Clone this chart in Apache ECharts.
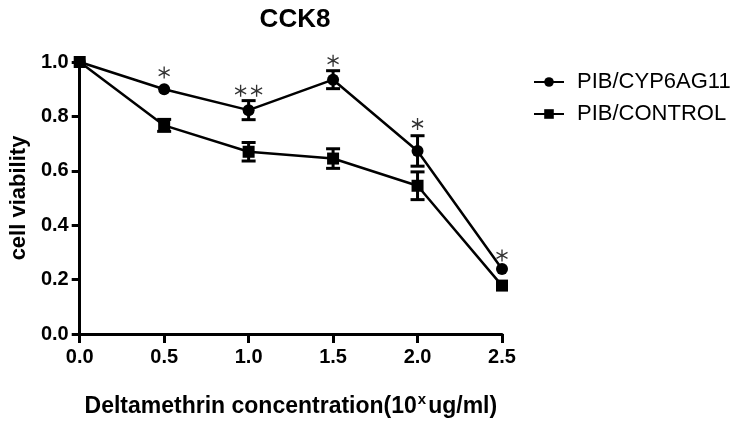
<!DOCTYPE html>
<html>
<head>
<meta charset="utf-8">
<script src="https://cdn.jsdelivr.net/npm/echarts@6/dist/echarts.min.js"></script>
<style>html,body{margin:0;padding:0;background:#fff;}#c{width:747px;height:423px;}</style>
</head>
<body>
<div id="c"></div>
<script>
var concentrations = [0.0, 0.5, 1.0, 1.5, 2.0, 2.5];
var cypMean = [1.0, 0.90, 0.823, 0.935, 0.673, 0.239];
var cypErr  = [0.0, 0.0, 0.035, 0.033, 0.056, 0.0];
var ctrlMean = [1.0, 0.767, 0.670, 0.645, 0.545, 0.178];
var ctrlErr  = [0.0, 0.022, 0.034, 0.036, 0.051, 0.0];
var sigX = [0.5, 1.0, 1.5, 2.0, 2.5];
var sigY = [0.961, 0.894, 1.005, 0.772, 0.289];
var sigCount = [1, 2, 1, 1, 1];
var yTicks = ['0.0', '0.2', '0.4', '0.6', '0.8', '1.0'];
var xTicks = ['0.0', '0.5', '1.0', '1.5', '2.0', '2.5'];
var seriesNames = ['PIB/CYP6AG11', 'PIB/CONTROL'];

var FONT = '"Liberation Sans", Arial, sans-serif';

function pairs(xs, ys) { return xs.map(function (x, i) { return [x, ys[i]]; }); }
function errData(xs, m, e) {
  var out = [];
  xs.forEach(function (x, i) { if (e[i] > 0) out.push([x, m[i] - e[i], m[i] + e[i]]); });
  return out;
}
var sigData = [];
sigX.forEach(function (x, i) {
  if (sigCount[i] === 2) {
    sigData.push({ value: [x, sigY[i]], symbolOffset: [-8, 0] });
    sigData.push({ value: [x, sigY[i]], symbolOffset: [8, 0] });
  } else {
    sigData.push({ value: [x, sigY[i]] });
  }
});

function renderErr(params, api) {
  var x = api.value(0);
  var lo = api.coord([x, api.value(1)]);
  var hi = api.coord([x, api.value(2)]);
  var hw = 7;
  var st = { stroke: '#000', lineWidth: 3 };
  return {
    type: 'group',
    children: [
      { type: 'line', shape: { x1: lo[0], y1: lo[1], x2: hi[0], y2: hi[1] }, style: st },
      { type: 'line', shape: { x1: lo[0] - hw, y1: lo[1], x2: lo[0] + hw, y2: lo[1] }, style: st },
      { type: 'line', shape: { x1: hi[0] - hw, y1: hi[1], x2: hi[0] + hw, y2: hi[1] }, style: st }
    ]
  };
}

var chart = echarts.init(document.getElementById('c'), null, { renderer: 'canvas' });
chart.setOption({
  backgroundColor: '#fff',
  animation: false,
  textStyle: { fontFamily: FONT, color: '#000' },
  title: {
    text: 'CCK8',
    left: 290,
    textAlign: 'center',
    top: 2,
    textStyle: { fontFamily: FONT, fontWeight: 'bold', fontSize: 26, color: '#000' }
  },
  legend: {
    left: 528,
    top: 66,
    orient: 'vertical',
    itemWidth: 30,
    itemHeight: 12,
    itemGap: 10,
    data: seriesNames,
    textStyle: { fontFamily: FONT, fontSize: 22, color: '#000', padding: [0, 0, 0, 8] }
  },
  grid: { left: 78, right: 245, top: 62, bottom: 81, containLabel: false },
  xAxis: {
    type: 'value',
    min: 0, max: 2.5, interval: 0.5,
    name: '{a|Deltamethrin concentration(10}{s|x}{a|ug/ml)}',
    nameLocation: 'middle',
    nameGap: 58,
    nameTextStyle: {
      rich: {
        a: { fontFamily: FONT, fontWeight: 'bold', fontSize: 23, color: '#000' },
        s: { fontFamily: FONT, fontWeight: 'bold', fontSize: 15, color: '#000', padding: [0, 2, 14, 1] }
      }
    },
    axisLine: { show: true, onZero: false, lineStyle: { color: '#000', width: 3 } },
    axisTick: { show: true, length: 9, lineStyle: { color: '#000', width: 3 } },
    axisLabel: {
      margin: 13, fontFamily: FONT, fontWeight: 'bold', fontSize: 20, color: '#000',
      formatter: function (v) { var i = Math.round(v / 0.5); return xTicks[i]; }
    },
    splitLine: { show: false }
  },
  yAxis: {
    type: 'value',
    min: 0, max: 1, interval: 0.2,
    name: 'cell viability',
    nameLocation: 'middle',
    nameGap: 48,
    nameTextStyle: { fontFamily: FONT, fontWeight: 'bold', fontSize: 22, color: '#000' },
    axisLine: { show: true, onZero: false, lineStyle: { color: '#000', width: 3 } },
    axisTick: { show: true, length: 8, lineStyle: { color: '#000', width: 3 } },
    axisLabel: {
      margin: 11, fontFamily: FONT, fontWeight: 'bold', fontSize: 20, color: '#000',
      formatter: function (v) { var i = Math.round(v / 0.2); return yTicks[i]; }
    },
    splitLine: { show: false }
  },
  series: [
    {
      name: seriesNames[0], type: 'line', clip: false,
      data: pairs(concentrations, cypMean),
      symbol: 'circle', symbolSize: 12, z: 5,
      lineStyle: { color: '#000', width: 2.5 },
      itemStyle: { color: '#000' }
    },
    {
      name: seriesNames[1], type: 'line', clip: false,
      data: pairs(concentrations, ctrlMean),
      symbol: 'rect', symbolSize: 12, z: 5,
      lineStyle: { color: '#000', width: 2.5 },
      itemStyle: { color: '#000' }
    },
    {
      type: 'custom', renderItem: renderErr, clip: false, z: 6,
      data: errData(concentrations, cypMean, cypErr),
      encode: { x: 0, y: [1, 2] }
    },
    {
      type: 'custom', renderItem: renderErr, clip: false, z: 6,
      data: errData(concentrations, ctrlMean, ctrlErr),
      encode: { x: 0, y: [1, 2] }
    },
    {
      type: 'scatter', clip: false, z: 7,
      data: sigData,
      symbol: 'path://M5,0L5,10M0.67,2.5L9.33,7.5M0.67,7.5L9.33,2.5',
      symbolSize: [11, 12],
      itemStyle: { color: 'rgba(0,0,0,0)', borderColor: '#000', borderWidth: 1.4 },
      silent: true
    }
  ]
});
</script>
</body>
</html>
